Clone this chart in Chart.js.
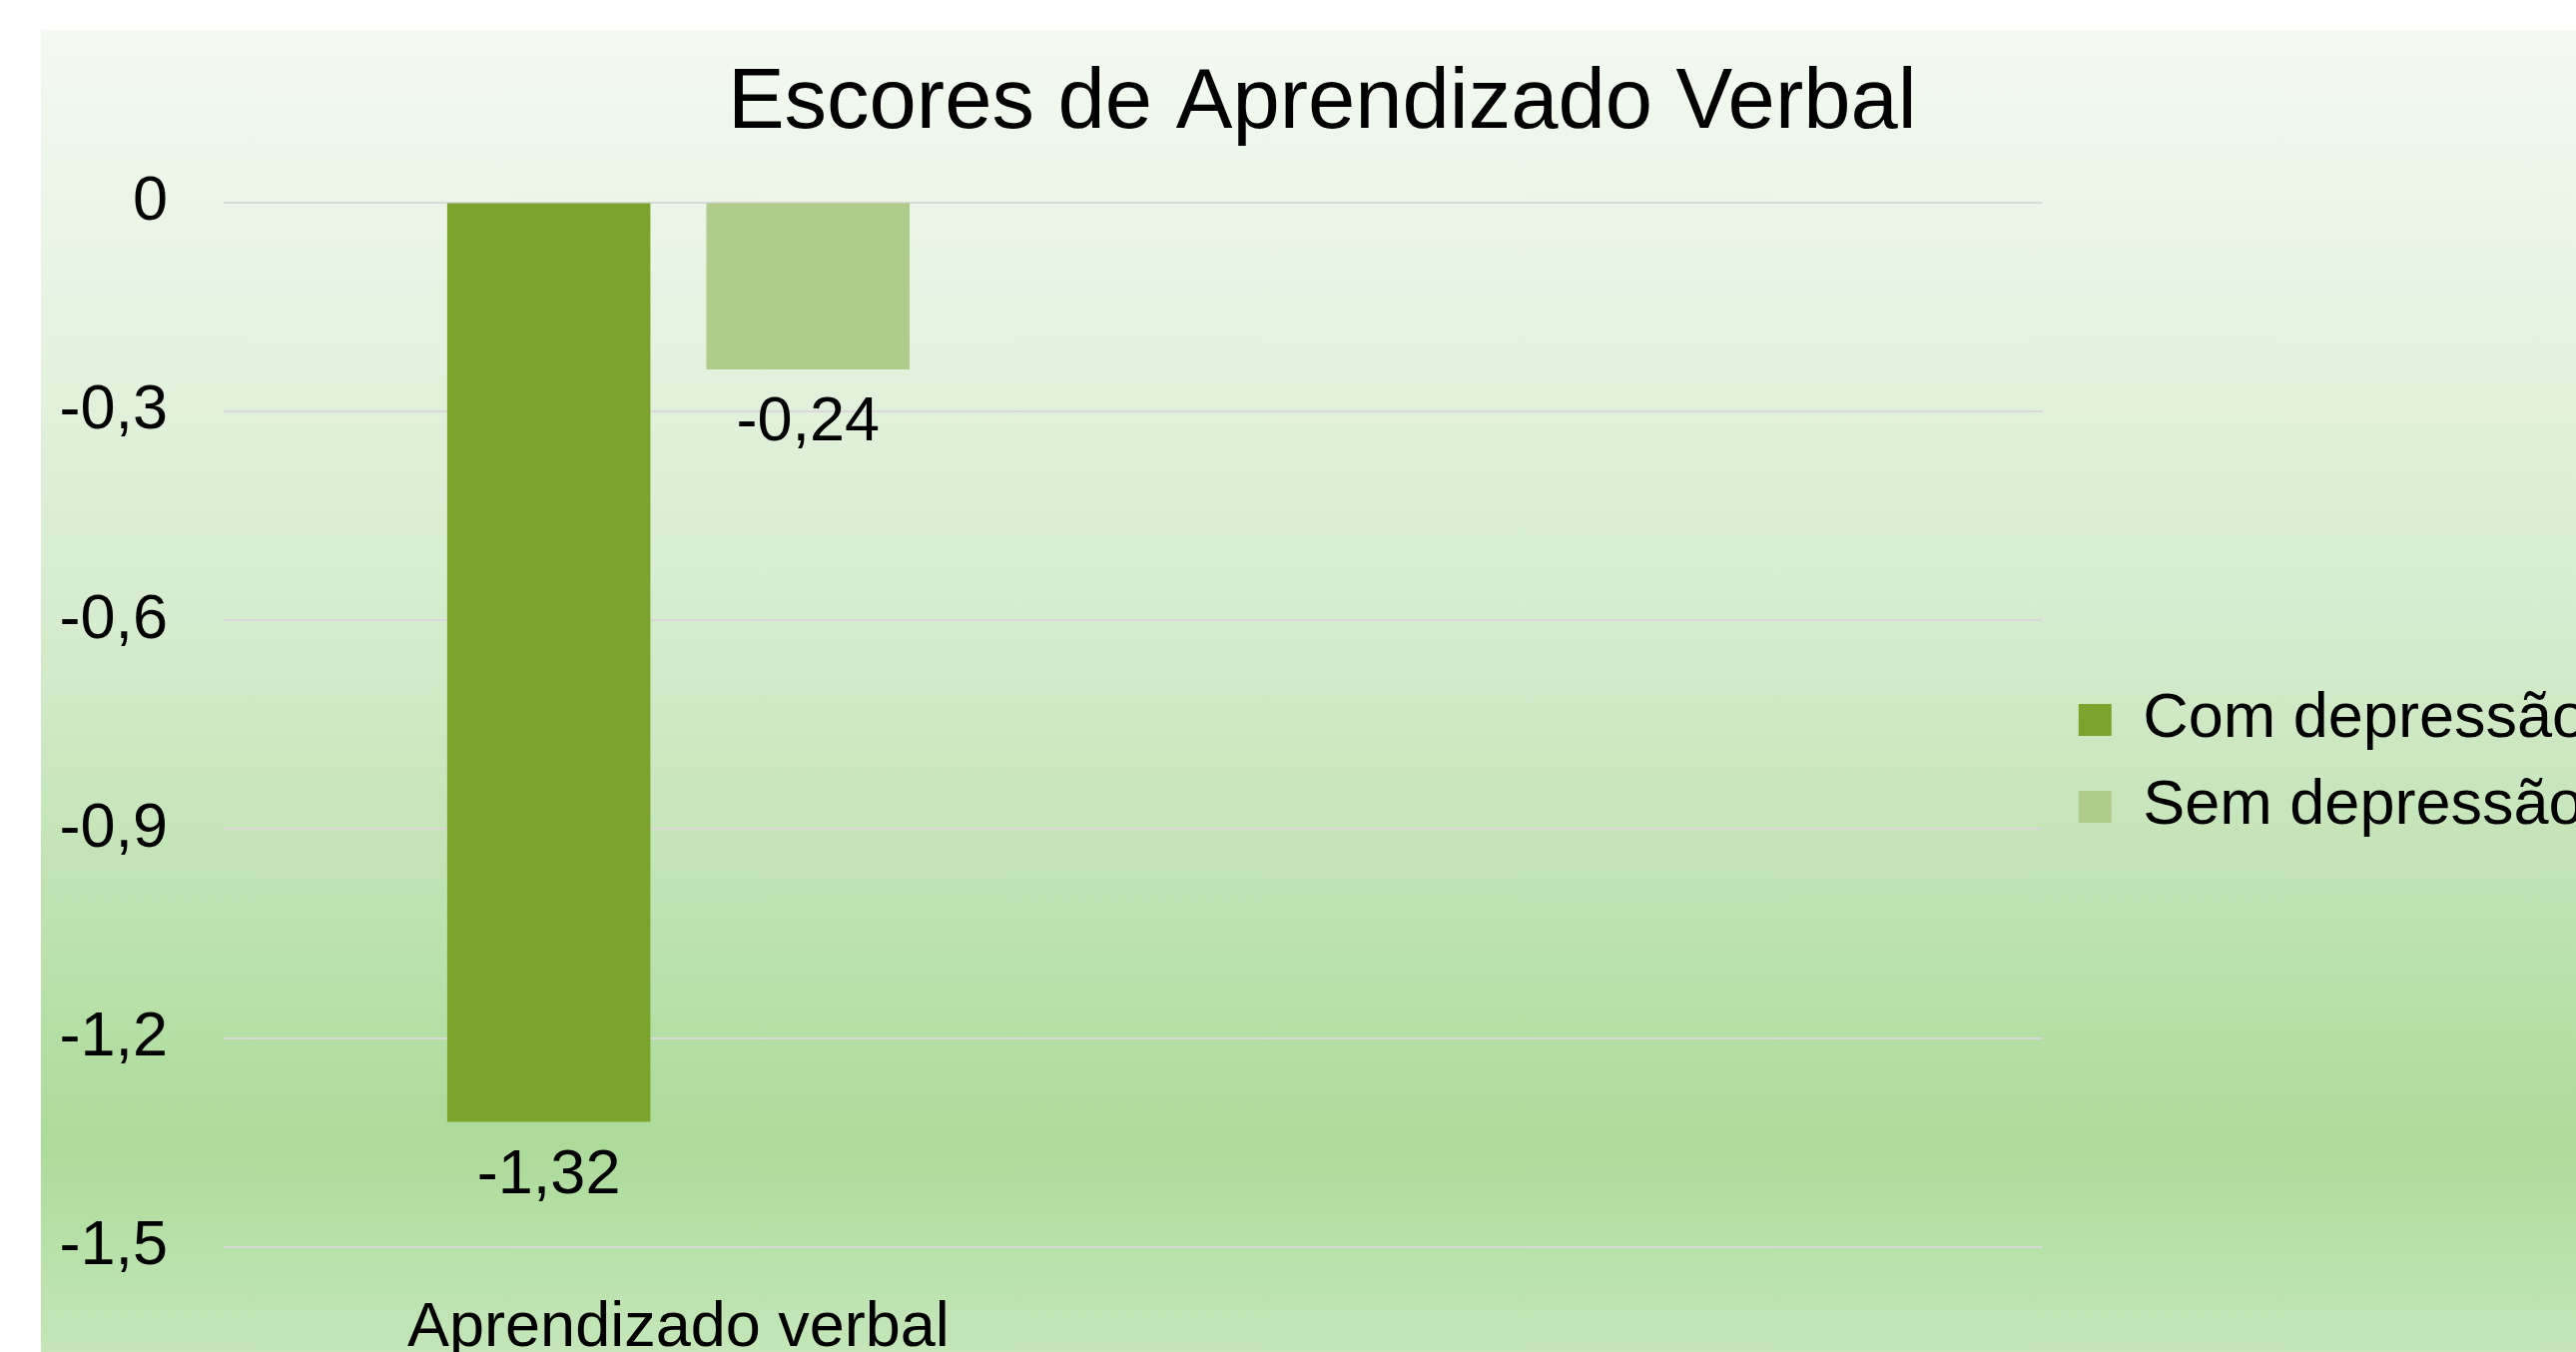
<!DOCTYPE html>
<html>
<head>
<meta charset="utf-8">
<script src="https://cdn.jsdelivr.net/npm/chart.js@4/dist/chart.umd.min.js"></script>
<style>
	html, body { margin:0; padding:0; background:#fff; overflow:hidden; width:2580px; height:1354px; }
	#painel {
		position:absolute; left:41px; top:30px; width:2556px; height:1469px;
		background:linear-gradient(to bottom, #f4f9f2 0%, #d6ecce 40%, #acdb9a 76%, #c4e6b8 90%, #cdeac2 100%);
	}
</style>
</head>
<body>
<div id="painel"><canvas id="grafico" width="2556" height="1469"></canvas></div>
<script>
const titulo = 'Escores de Aprendizado Verbal'
const categorias = ['Aprendizado verbal', '']   // a segunda categoria fica vazia no original
const series = ['Com depressão', 'Sem depressão']
const comDepressao = [-1.32, null]
const semDepressao = [-0.24, null]
const cores = ['#7ca42d', '#afcc8a']
const eixoY = { min:-1.5, max:0, passo:0.3 }

const fonte = 'Liberation Sans, Arial, sans-serif'
const virgula = v => Math.abs(v) < 1e-9 ? '0' : String(Math.round(v * 100) / 100).replace('.', ',')

// rotulos de dados abaixo das barras (nao ha plugin datalabels aqui)
const rotulos = {
	id: 'rotulos',
	afterDatasetsDraw: c => {
		const ctx = c.ctx
		ctx.save()
		ctx.font = '63px ' + fonte
		ctx.fillStyle = '#000'
		ctx.textAlign = 'center'
		ctx.textBaseline = 'middle'
		c.data.datasets.forEach((d, i) => {
			c.getDatasetMeta(i).data.forEach((b, j) => {
				if (d.data[j] == null) return
				ctx.fillText(virgula(d.data[j]), b.x, b.y + 54)
			})
		})
		ctx.restore()
	}
}

// afasta um pouco a legenda da area de plotagem
const folgaLegenda = {
	id: 'folgaLegenda',
	afterLayout: c => { if (c.legend) { c.legend.left += 12; c.legend.right += 12 } }
}

new Chart(document.getElementById('grafico'), {
	type: 'bar',
	data: {
		labels: categorias,
		datasets: [{
			label: series[0],
			data: comDepressao,
			backgroundColor: cores[0],
			borderWidth: 0,
			categoryPercentage: 0.57,
			barPercentage: 0.784,
		}, {
			label: series[1],
			data: semDepressao,
			backgroundColor: cores[1],
			borderWidth: 0,
			categoryPercentage: 0.57,
			barPercentage: 0.784,
		}]
	},
	options: {
		responsive: false,
		animation: false,
		devicePixelRatio: 1,
		layout: { padding: { left:18.5, top:0, right:8, bottom:0 } },
		plugins: {
			title: {
				display: true,
				text: titulo,
				color: '#000',
				font: { family: fonte, size: 85, weight: 'normal' },
				padding: { top: 24, bottom: 46.6 },
			},
			legend: {
				position: 'right',
				labels: {
					color: '#000',
					font: { family: fonte, size: 63 },
					boxWidth: 33,
					boxHeight: 32,
					padding: 24,
				}
			},
			tooltip: { enabled: false },
		},
		scales: {
			x: {
				grid: { display: false },
				border: { display: false },
				ticks: { color: '#000', font: { family: fonte, size: 63 }, padding: 36 },
				afterFit: s => { s.height = 250; s.paddingLeft = 0; s.paddingRight = 0 },
			},
			y: {
				min: eixoY.min,
				max: eixoY.max,
				grid: { color: '#d9d9d9', lineWidth: 2, drawTicks: false },
				border: { display: false },
				ticks: {
					stepSize: eixoY.passo,
					color: '#000',
					font: { family: fonte, size: 63 },
					padding: 56,
					callback: v => virgula(v),
				},
				afterFit: s => { s.width = 164.5 },
			}
		}
	},
	plugins: [rotulos, folgaLegenda]
})
</script>
</body>
</html>
